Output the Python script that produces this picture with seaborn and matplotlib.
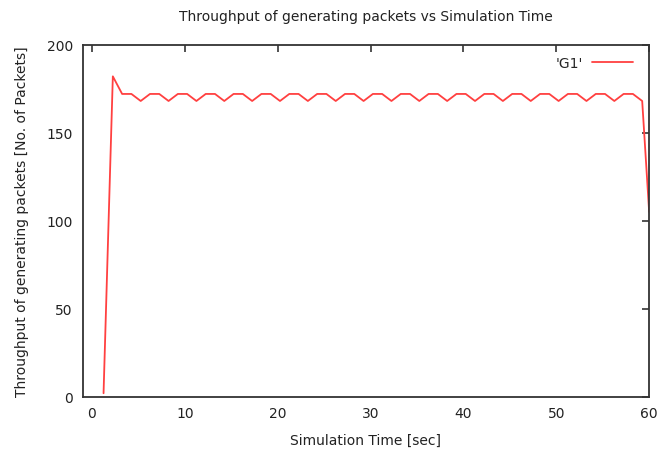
import matplotlib
matplotlib.use("Agg")
import matplotlib.pyplot as plt
import seaborn as sns
import pandas as pd

# sample times (sec) and throughput
sim_time = [1.25, 2.25, 3.25, 4.25, 5.25, 6.25, 7.25, 8.25, 9.25, 10.25,
            11.25, 12.25, 13.25, 14.25, 15.25, 16.25, 17.25, 18.25, 19.25, 20.25,
            21.25, 22.25, 23.25, 24.25, 25.25, 26.25, 27.25, 28.25, 29.25, 30.25,
            31.25, 32.25, 33.25, 34.25, 35.25, 36.25, 37.25, 38.25, 39.25, 40.25,
            41.25, 42.25, 43.25, 44.25, 45.25, 46.25, 47.25, 48.25, 49.25, 50.25,
            51.25, 52.25, 53.25, 54.25, 55.25, 56.25, 57.25, 58.25, 59.25, 60.0]
g1_packets = [2, 182, 172, 172, 168, 172, 172, 168, 172, 172,
              168, 172, 172, 168, 172, 172, 168, 172, 172, 168,
              172, 172, 168, 172, 172, 168, 172, 172, 168, 172,
              172, 168, 172, 172, 168, 172, 172, 168, 172, 172,
              168, 172, 172, 168, 172, 172, 168, 172, 172, 168,
              172, 172, 168, 172, 172, 168, 172, 172, 168, 105]
x_ticks = [0, 10, 20, 30, 40, 50, 60]
y_ticks = [0, 50, 100, 150, 200]

df = pd.DataFrame({"t": sim_time, "v": g1_packets})

sns.set_theme(style="white")
plt.rcParams['font.family'] = ['DejaVu Sans']

fig = plt.figure(figsize=(6.72, 4.52), dpi=100)
ax = fig.add_axes([0.123, 0.12, 0.843, 0.779])

sns.lineplot(data=df, x="t", y="v", ax=ax, color="#ff4040", linewidth=1.3,
             label="'G1'", sort=False)

ax.set_xlim(-1, 60)
ax.set_ylim(0, 200)
ax.set_xticks(x_ticks)
ax.set_yticks(y_ticks)

for s in ax.spines.values():
    s.set_visible(True)
    s.set_color("#333333")
    s.set_linewidth(1.3)
ax.tick_params(direction="in", length=5, width=1.2, color="#333333",
               labelsize=10, labelcolor="#222222", top=True, right=True,
               pad=7)

ax.set_title("Throughput of generating packets vs Simulation Time",
             fontsize=10, color="#222222", pad=18)
ax.set_xlabel("Simulation Time [sec]", fontsize=10, color="#222222", labelpad=9)
ax.set_ylabel("Throughput of generating packets [No. of Packets]", fontsize=10,
              color="#222222", labelpad=13)

ax.legend(loc="upper right", bbox_to_anchor=(0.989, 0.995), frameon=False,
          markerfirst=False, fontsize=10, handlelength=3.0,
          borderaxespad=0.3, handletextpad=0.6)

plt.savefig("out.png", dpi=100)
